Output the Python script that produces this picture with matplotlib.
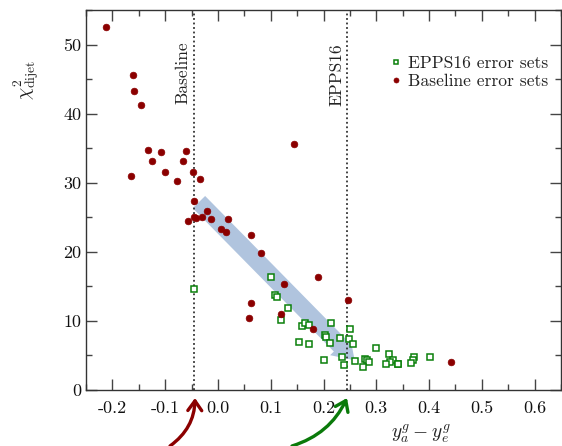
import matplotlib
matplotlib.use('Agg')
import matplotlib.pyplot as plt
from matplotlib.patches import FancyArrowPatch
from matplotlib.ticker import MultipleLocator, FormatStrFormatter

plt.rcParams['font.family'] = 'cmr10'
plt.rcParams['mathtext.fontset'] = 'cm'
plt.rcParams['axes.unicode_minus'] = False
plt.rcParams['axes.formatter.use_mathtext'] = False

# EPPS16 error sets (y_a^g - y_e^g, chi2)
epps_x = [-0.046, 0.101, 0.109, 0.111, 0.133, 0.119, 0.2135, 0.159, 0.165, 0.1725,
          0.202, 0.205, 0.2116, 0.2305, 0.251, 0.248, 0.255, 0.154, 0.1725, 0.201,
          0.235, 0.238, 0.259, 0.278, 0.282, 0.286, 0.2755, 0.300, 0.324, 0.3316,
          0.3266, 0.319, 0.341, 0.342, 0.372, 0.370, 0.366, 0.401]
epps_y = [14.6, 16.3, 13.75, 13.4, 11.9, 10.1, 9.75, 9.3, 9.65, 9.4,
          7.96, 7.67, 6.85, 7.48, 8.83, 7.38, 6.66, 7.0, 6.66, 4.39,
          4.78, 3.6, 4.2, 4.44, 4.34, 4.0, 3.37, 6.12, 5.16, 4.34,
          4.1, 3.76, 3.8, 3.7, 4.82, 4.34, 3.86, 4.82]

# Baseline error sets
base_x = [-0.213, -0.1616, -0.160, -0.1465, -0.133, -0.107, -0.0606, -0.125, -0.0656, -0.164,
          -0.100, -0.047, -0.0777, -0.034, 0.145, -0.0455, -0.045, -0.041, -0.056, -0.0296,
          -0.020, -0.0138, 0.0197, 0.0064, 0.0152, 0.062, 0.082, 0.126, 0.189, 0.0625,
          0.058, 0.119, 0.180, 0.246, 0.441]
base_y = [52.5, 45.6, 43.3, 41.3, 34.7, 34.4, 34.6, 33.1, 33.1, 31.0,
          31.5, 31.5, 30.3, 30.6, 35.6, 27.3, 25.1, 24.9, 24.4, 25.0,
          25.9, 24.7, 24.7, 23.3, 22.8, 22.5, 19.8, 15.3, 16.4, 12.6,
          10.4, 11.0, 8.9, 13.0, 4.05]

baseline_pos = -0.046
epps16_pos = 0.245
arrow_start = (-0.036, 27.2)
arrow_end = (0.259, 4.3)

x_ticks = [-0.2, -0.1, 0.0, 0.1, 0.2, 0.3, 0.4, 0.5, 0.6]
y_ticks = [0, 10, 20, 30, 40, 50]

W, H = 562, 446
fig = plt.figure(figsize=(W / 100, H / 100), dpi=100)
ax = fig.add_axes([86 / W, 56 / H, 475 / W, 380 / H])
ax.set_xlim(-0.25, 0.65)
ax.set_ylim(0, 55)

red = '#8b0000'
green = '#0a800a'

ax.add_patch(FancyArrowPatch(arrow_start, arrow_end,
                             arrowstyle='simple,head_length=15,head_width=20,tail_width=12.5',
                             mutation_scale=1, color='#b0c4de', lw=0, zorder=1,
                             shrinkA=0, shrinkB=0))

ax.axvline(baseline_pos, color='#333333', ls=(0, (1, 1.5)), lw=1.3, zorder=2)
ax.axvline(epps16_pos, color='#333333', ls=(0, (1, 1.5)), lw=1.3, zorder=2)

ax.plot(epps_x, epps_y, ls='none', marker='s', ms=4.6, mfc='white', mec=green, mew=1.1,
        zorder=3, label='EPPS16 error sets')
ax.plot(base_x, base_y, ls='none', marker='o', ms=4.8, mfc=red, mec=red, mew=0.5,
        zorder=4, label='Baseline error sets')

ax.text(baseline_pos - 0.006, 50.4, 'Baseline', rotation=90, ha='right', va='top',
        fontsize=12.5, color='#222222')
ax.text(epps16_pos - 0.006, 50.2, 'EPPS16', rotation=90, ha='right', va='top',
        fontsize=12.5, color='#222222')

leg = ax.legend(loc='upper left', bbox_to_anchor=(0.615, 0.912), frameon=False,
                fontsize=12.6, handlelength=0.6, handletextpad=0.4, labelspacing=0.18,
                markerscale=0.75, borderpad=0.2)
for t in leg.get_texts():
    t.set_color('#222222')

ax.set_xticks(x_ticks)
ax.set_yticks(y_ticks)
ax.xaxis.set_major_formatter(FormatStrFormatter('%.1f'))
ax.xaxis.set_minor_locator(MultipleLocator(0.05))
ax.yaxis.set_minor_locator(MultipleLocator(5))
ax.tick_params(which='both', direction='in', top=True, right=True, labelsize=13,
               colors='#444444', labelcolor='#111111')
ax.tick_params(which='major', length=8, width=1)
ax.tick_params(which='minor', length=4, width=1)
ax.tick_params(axis='x', pad=8)
for s in ax.spines.values():
    s.set_color('#333333')
    s.set_linewidth(1.0)

ax.set_xlabel(r'$y_a^g - y_e^g$', fontsize=14, color='#222222')
ax.xaxis.set_label_coords((421 - 86) / 475, -0.085)
ax.set_ylabel(r'$\chi^2_{\rm dijet}$', fontsize=14, color='#222222')
ax.yaxis.set_label_coords(-0.095, (390 - 80) / 380)

# curved arrows below the axis
fig.add_artist(FancyArrowPatch((170 / W, 0.0), (195 / W, 1 - 398 / H), transform=fig.transFigure,
                               connectionstyle='arc3,rad=0.25',
                               arrowstyle='->,head_length=0.35,head_width=0.25', mutation_scale=20,
                               lw=2.4, color=red, shrinkA=0, shrinkB=0))
fig.add_artist(FancyArrowPatch((292 / W, 0.0), (347 / W, 1 - 398 / H), transform=fig.transFigure,
                               connectionstyle='arc3,rad=0.22',
                               arrowstyle='->,head_length=0.35,head_width=0.25', mutation_scale=20,
                               lw=2.4, color='#0a7a0a', shrinkA=0, shrinkB=0))

fig.savefig('out.png', dpi=100)
